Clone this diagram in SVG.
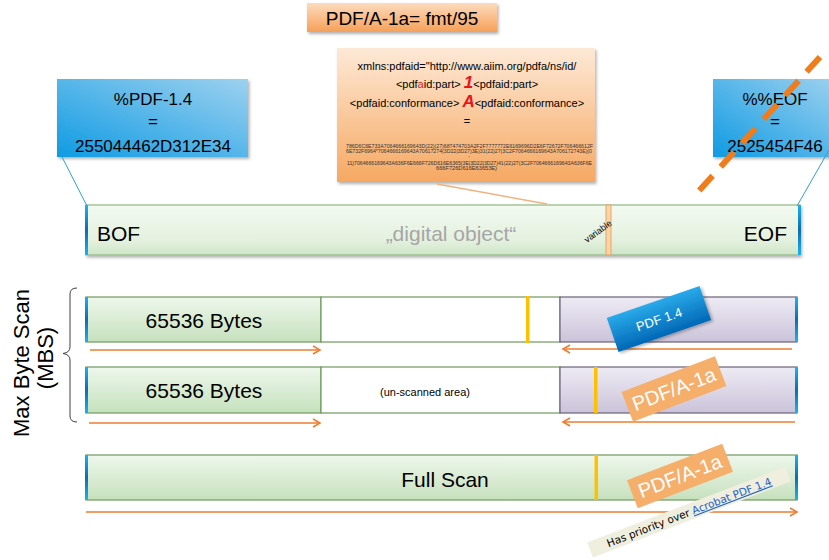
<svg xmlns="http://www.w3.org/2000/svg" width="829" height="560" viewBox="0 0 829 560">
<style>
  text { font-family: "Liberation Sans", Arial, sans-serif; fill: #000; }
  .big { font-size: 21px; }
  .box { font-size: 17px; text-anchor: middle; }
  .mid { text-anchor: middle; }
  .hex { font-size: 5px; fill: #333; }
  .bar { stroke: #6e9a5e; stroke-width: 1.2; }
  .purp { fill: url(#gPurple); stroke: #6a6278; stroke-width: 1.2; }
  .arrow { stroke: #ed7d31; stroke-width: 1.6; fill: none; }
  .mark { fill: #ffc000; }
  .ptrb { stroke: #2e9fdc; stroke-width: 1; fill: none; }
</style>
<defs>
  <linearGradient id="gGreen" x1="0" y1="0" x2="0" y2="1">
    <stop offset="0" stop-color="#eef7ec"/><stop offset="1" stop-color="#c6e1bd"/>
  </linearGradient>
  <linearGradient id="gGreenMain" x1="0" y1="0" x2="0" y2="1">
    <stop offset="0" stop-color="#f3faf1"/><stop offset="0.7" stop-color="#e4f1df"/><stop offset="1" stop-color="#cfe6c8"/>
  </linearGradient>
  <linearGradient id="gPurple" x1="0" y1="0" x2="0" y2="1">
    <stop offset="0" stop-color="#eeebf4"/><stop offset="1" stop-color="#cbc3da"/>
  </linearGradient>
  <linearGradient id="gBlue" x1="0" y1="1" x2="1" y2="0">
    <stop offset="0" stop-color="#0f9be3"/><stop offset="1" stop-color="#9dd1ef"/>
  </linearGradient>
  <linearGradient id="gPdf14" x1="0" y1="0" x2="0" y2="1">
    <stop offset="0" stop-color="#2aaae9"/><stop offset="1" stop-color="#0068b6"/>
  </linearGradient>
  <linearGradient id="gOrange" x1="0" y1="0" x2="0" y2="1">
    <stop offset="0" stop-color="#fde9d6"/><stop offset="1" stop-color="#f6a862"/>
  </linearGradient>
  <linearGradient id="gTitle" x1="0" y1="0" x2="0" y2="1">
    <stop offset="0" stop-color="#fddcbd"/><stop offset="1" stop-color="#f5a058"/>
  </linearGradient>
  <linearGradient id="gStrip" x1="0" y1="0" x2="0" y2="1">
    <stop offset="0" stop-color="#19b2f0"/><stop offset="0.5" stop-color="#0a6fae"/><stop offset="1" stop-color="#19b2f0"/>
  </linearGradient>
  <filter id="shadow" x="-10%" y="-10%" width="120%" height="130%">
    <feDropShadow dx="1.5" dy="2" stdDeviation="1.5" flood-color="#000" flood-opacity="0.3"/>
  </filter>
  <marker id="ah" markerWidth="10" markerHeight="10" refX="8" refY="5" orient="auto" markerUnits="userSpaceOnUse">
    <path d="M1,1 L8,5 L1,9" fill="none" stroke="#ed7d31" stroke-width="1.6"/>
  </marker>
</defs>

<rect width="829" height="560" fill="#ffffff"/>

<g id="title">
  <rect x="307" y="3" width="190" height="29" fill="url(#gTitle)" filter="url(#shadow)"/>
  <text x="402" y="25" class="mid" font-size="19">PDF/A-1a= fmt/95</text>
</g>

<g id="callout">
  <rect x="337" y="48" width="258" height="134" fill="url(#gOrange)" filter="url(#shadow)"/>
  <text x="467" y="70" class="mid" font-size="11">xmlns:pdfaid="http://www.aiim.org/pdfa/ns/id/</text>
  <text x="467" y="88" class="mid" font-size="11">&lt;pdf<tspan fill="#e0201a">a</tspan>id:part&gt; <tspan fill="#e8141a" font-size="17" font-weight="bold" font-style="italic">1</tspan>&lt;pdfaid:part&gt;</text>
  <text x="467" y="107" class="mid" font-size="11">&lt;pdfaid:conformance&gt; <tspan fill="#e8141a" font-size="17" font-weight="bold" font-style="italic">A</tspan>&lt;pdfaid:conformance&gt;</text>
  <text x="467" y="125" class="mid" font-size="11">=</text>
  <text x="346" y="147.5" class="hex" textLength="247" lengthAdjust="spacingAndGlyphs">786D6C6E733A7064666169643D(22)(27)687474703A2F2F7777772E6169696D2E6F72672F706466612F</text>
  <text x="346" y="153" class="hex" textLength="246" lengthAdjust="spacingAndGlyphs">6E732F6964*7064666169643A70617274(3D22|3D27)3E)31(22)27(3C2F7064666169643A706172743E)(0</text>
  <text x="469" y="158" class="hex mid">-</text>
  <text x="347" y="164.5" class="hex" textLength="245" lengthAdjust="spacingAndGlyphs">11)7064666169643A636F6E666F726D616E6365(3E|3D22|3D27)41(22)27(3C2F7064666169643A636F6E</text>
  <text x="436" y="169.5" class="hex" textLength="61" lengthAdjust="spacingAndGlyphs">666F726D616E63653E)</text>
</g>

<g id="bof-box">
  <rect x="57" y="79" width="191" height="78" fill="url(#gBlue)" filter="url(#shadow)"/>
  <text x="153" y="105" class="box">%PDF-1.4</text>
  <text x="153" y="127" class="box">=</text>
  <text x="153" y="152" class="box">255044462D312E34</text>
</g>

<g id="eof-box">
  <rect x="713" y="79" width="124" height="78" fill="url(#gBlue)" filter="url(#shadow)"/>
  <text x="775" y="105" class="box">%%EOF</text>
  <text x="775" y="127" class="box">=</text>
  <text x="775" y="152" class="box">2525454F46</text>
</g>

<g id="main-bar">
  <rect x="86" y="205" width="714" height="50" fill="url(#gGreenMain)" stroke="#8fb884" stroke-width="1.2" filter="url(#shadow)"/>
  <rect x="85" y="205" width="3" height="50" fill="url(#gStrip)"/>
  <rect x="798" y="205" width="3" height="50" fill="url(#gStrip)"/>
  <rect x="606" y="205" width="5" height="50" fill="#fbd4a8" stroke="#e9a466" stroke-width="1"/>
  <text x="97" y="241" class="big">BOF</text>
  <text x="451" y="241" class="big mid" fill="#a6a6a6" style="fill:#a6a6a6">„digital object“</text>
  <text x="787" y="241" class="big" text-anchor="end">EOF</text>
  <text x="0" y="0" font-size="9" transform="translate(587,243) rotate(-36)">variable</text>
</g>

<g id="row1">
  <rect x="86" y="297" width="235" height="45" fill="url(#gGreen)" class="bar"/>
  <rect x="321" y="297" width="239" height="45" fill="#ffffff" class="bar"/>
  <rect x="560" y="297" width="237" height="45" class="purp"/>
  <rect x="85" y="297" width="3" height="45" fill="url(#gStrip)"/>
  <rect x="795" y="297" width="3" height="45" fill="url(#gStrip)"/>
  <rect x="526" y="296" width="3.5" height="47" class="mark"/>
  <text x="204" y="328" class="big mid">65536 Bytes</text>
</g>

<g id="row2">
  <rect x="86" y="367" width="235" height="46" fill="url(#gGreen)" class="bar"/>
  <rect x="321" y="367" width="239" height="46" fill="#ffffff" class="bar"/>
  <rect x="560" y="367" width="237" height="46" class="purp"/>
  <rect x="85" y="367" width="3" height="46" fill="url(#gStrip)"/>
  <rect x="795" y="367" width="3" height="46" fill="url(#gStrip)"/>
  <rect x="594" y="367" width="3.5" height="46" class="mark"/>
  <text x="204" y="398" class="big mid">65536 Bytes</text>
  <text x="425" y="396" class="mid" font-size="11">(un-scanned area)</text>
</g>

<g id="row3">
  <rect x="86" y="455" width="711" height="45" fill="url(#gGreen)" class="bar"/>
  <rect x="85" y="455" width="3" height="45" fill="url(#gStrip)"/>
  <rect x="795" y="455" width="3" height="45" fill="url(#gStrip)"/>
  <rect x="594.5" y="455" width="3.5" height="45" class="mark"/>
  <text x="445" y="487" class="big mid">Full Scan</text>
</g>

<g id="mbs-label">
  <path d="M77,288 Q70,288 70,294 L70,347 Q70,352.5 63,353.5 Q70,354.5 70,360 L70,416 Q70,422 77,422" fill="none" stroke="#404040" stroke-width="1"/>
  <text x="0" y="0" font-size="22" text-anchor="middle" transform="translate(29,363) rotate(-90)">Max Byte Scan</text>
  <text x="0" y="0" font-size="22" text-anchor="middle" transform="translate(53,358) rotate(-90)">(MBS)</text>
</g>

<g id="connectors">
  <line x1="62" y1="157" x2="87" y2="206" class="ptrb"/>
  <line x1="829" y1="150" x2="797" y2="206" class="ptrb"/>
  <line x1="437" y1="184" x2="547" y2="204" stroke="#f2b27c" stroke-width="1.5"/>
  <line x1="90" y1="350" x2="320" y2="350" class="arrow" marker-end="url(#ah)"/>
  <line x1="792" y1="349" x2="563" y2="349" class="arrow" marker-end="url(#ah)"/>
  <line x1="89" y1="423" x2="320" y2="423" class="arrow" marker-end="url(#ah)"/>
  <line x1="795" y1="422" x2="563" y2="422" class="arrow" marker-end="url(#ah)"/>
  <line x1="86" y1="512" x2="797" y2="512" class="arrow" marker-end="url(#ah)"/>
</g>

<g id="strike">
  <line x1="820" y1="57" x2="697" y2="193" stroke="#f07c1c" stroke-width="6" stroke-dasharray="20 12"/>
</g>

<g id="label-pdf14" transform="translate(659,319) rotate(-19)">
  <rect x="-49" y="-18" width="98" height="36" fill="url(#gPdf14)" filter="url(#shadow)"/>
  <text x="0" y="5" class="mid" font-size="13" style="fill:#ffffff">PDF 1.4</text>
</g>

<g id="label-pdfa-row2" transform="translate(674,389) rotate(-21)">
  <rect x="-50" y="-16" width="100" height="32" fill="#f6ae6b"/>
  <text x="0" y="7" class="mid" font-size="20" style="fill:#ffffff">PDF/A-1a</text>
</g>

<g id="label-pdfa-row3" transform="translate(680,476) rotate(-21)">
  <rect x="-51" y="-15" width="102" height="30" fill="#f6ae6b"/>
  <text x="0" y="7" class="mid" font-size="20" style="fill:#ffffff">PDF/A-1a</text>
</g>

<g id="label-priority" transform="translate(689,512) rotate(-21)">
  <rect x="-106" y="-8" width="212" height="16" fill="#efeedf"/>
  <text x="0" y="4" class="mid" font-size="10.5" style="font-family:'DejaVu Sans',Verdana,sans-serif">Has priority over <tspan style="fill:#1f5fc4" text-decoration="underline">Acrobat PDF 1.4</tspan></text>
</g>
</svg>
